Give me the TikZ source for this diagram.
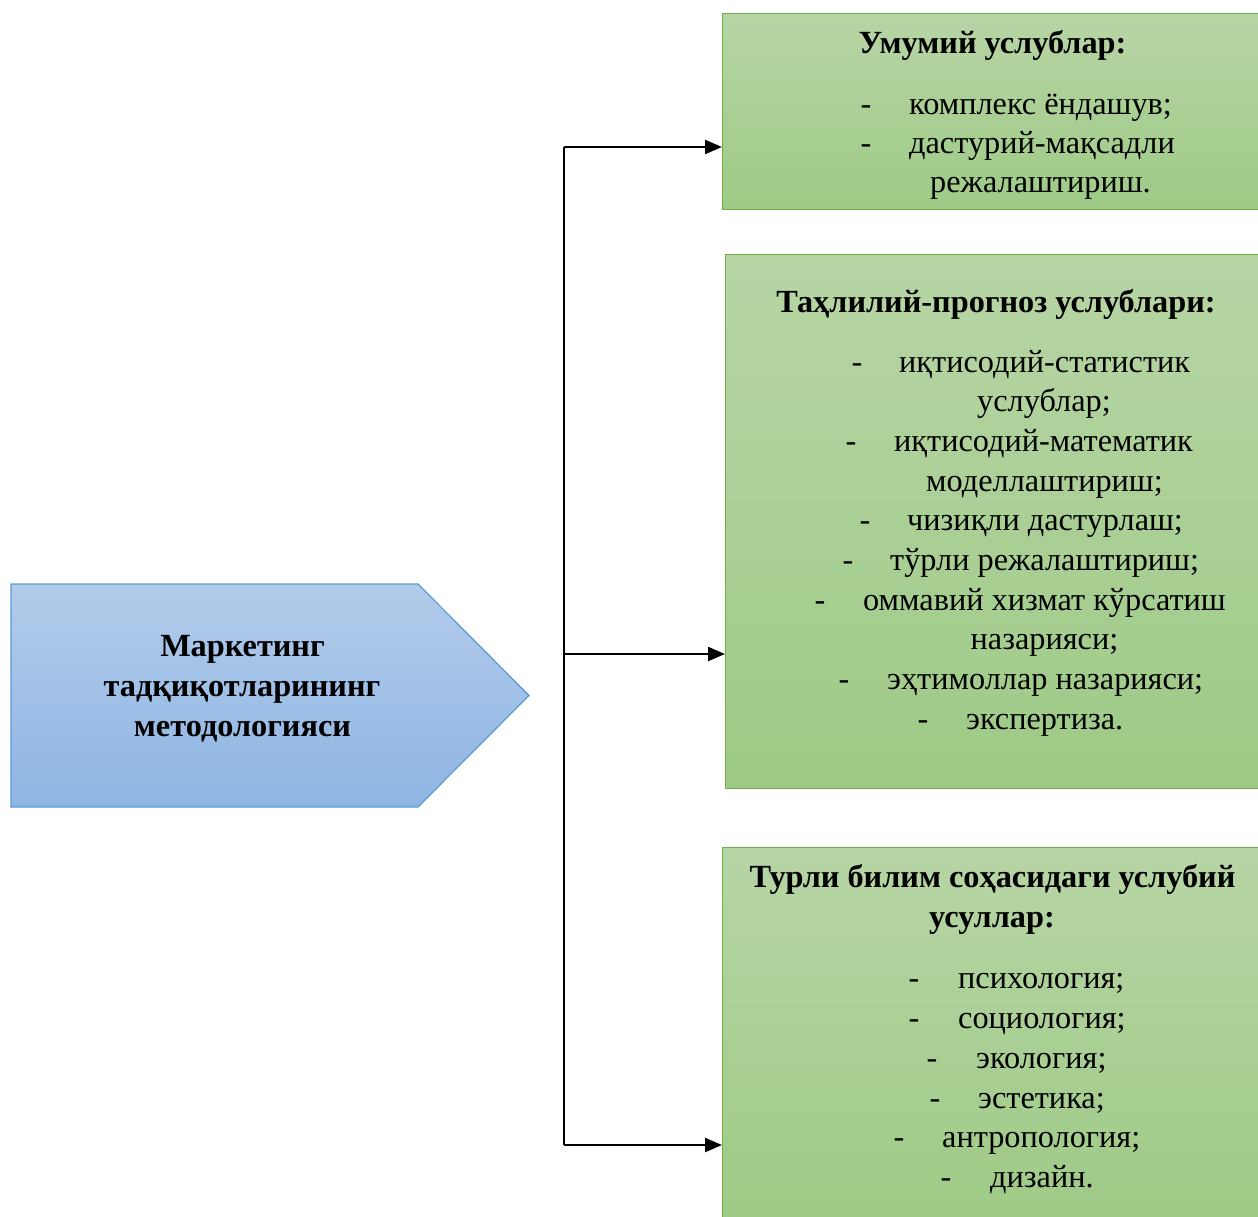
\documentclass[tikz,border=0pt]{standalone}
\usepackage{fontspec}
\setmainfont{Liberation Serif}
\usetikzlibrary{arrows.meta}
\definecolor{gtop}{RGB}{183,213,165}
\definecolor{gbot}{RGB}{158,202,134}
\definecolor{gline}{RGB}{112,173,71}
\definecolor{btop}{RGB}{178,203,234}
\definecolor{bbot}{RGB}{142,181,227}
\definecolor{bline}{RGB}{91,155,213}
\newcommand{\boxfont}{\fontsize{32.3}{39}\selectfont}
\tikzset{
  greenbox/.style={draw=gline, line width=1.2pt, top color=gtop, bottom color=gbot,
    anchor=north west, inner sep=0pt},
  item/.style={anchor=base west, inner sep=0pt, font=\boxfont},
  cont/.style={anchor=base, inner sep=0pt, font=\boxfont},
  head/.style={anchor=base, inner sep=0pt, font=\boxfont\bfseries},
  bullet/.style={anchor=base, inner sep=0pt, font=\boxfont},
  trunk/.style={line width=1.3pt},
  link/.style={line width=2.2pt, -{Triangle[length=17pt,width=14pt]}},
}
\begin{document}
\begin{tikzpicture}[x=1pt,y=-1pt]
\useasboundingbox (0,0) rectangle (1258,1216);
\clip (0,0) rectangle (1258,1216);

% pentagon arrow on the left
\path[draw=bline, line width=1.2pt, top color=btop, bottom color=bbot]
  (11,584) -- (418,584) -- (529,695.5) -- (418,807) -- (11,807) -- cycle;
\node[head] (m1) at (242.5,656) {Маркетинг};
\node[head] (m2) at (242,696) {тадқиқотларининг};
\node[head] (m3) at (242.5,736) {методологияси};

% the three green boxes
\node[greenbox, minimum width=536pt, minimum height=196pt] (box1) at (722,13) {};
\node[greenbox, minimum width=533pt, minimum height=534pt] (box2) at (725,254) {};
\node[greenbox, minimum width=536pt, minimum height=380pt] (box3) at (722,847) {};

% box 1
\node[head] (h1) at (992.5,53) {Умумий услублар:};
\node[bullet] (d11) at (866,114) {-};
\node[item] (a11) at (909,114) {комплекс ёндашув;};
\node[bullet] (d12) at (866,153) {-};
\node[item] (a12) at (909,153) {дастурий-мақсадли};
\node[cont] (a13) at (1040.5,192) {режалаштириш.};

% box 2
\node[head] (h2) at (996,312) {Таҳлилий-прогноз услублари:};
\node[bullet] (d21) at (857,372) {-};
\node[item] (a21) at (899,372) {иқтисодий-статистик};
\node[cont] (a22) at (1044,411.7) {услублар;};
\node[bullet] (d23) at (851,451.4) {-};
\node[item] (a23) at (894,451.4) {иқтисодий-математик};
\node[cont] (a24) at (1044.5,491.1) {моделлаштириш;};
\node[bullet] (d25) at (865,530.8) {-};
\node[item] (a25) at (907,530.8) {чизиқли дастурлаш;};
\node[bullet] (d26) at (848,570.5) {-};
\node[item] (a26) at (890,570.5) {тўрли режалаштириш;};
\node[bullet] (d27) at (820,610.2) {-};
\node[item] (a27) at (863,610.2) {оммавий хизмат кўрсатиш};
\node[cont] (a28) at (1044.5,649.9) {назарияси;};
\node[bullet] (d29) at (844,689.6) {-};
\node[item] (a29) at (887,689.6) {эҳтимоллар назарияси;};
\node[bullet] (d2a) at (923,729.3) {-};
\node[item] (a2a) at (966,729.3) {экспертиза.};

% box 3
\node[head] (h3a) at (992.5,887) {Турли билим соҳасидаги услубий};
\node[head] (h3b) at (992,927) {усуллар:};
\node[bullet] (d31) at (914,988) {-};
\node[item] (a31) at (958,988) {психология;};
\node[bullet] (d32) at (914,1028) {-};
\node[item] (a32) at (958,1028) {социология;};
\node[bullet] (d33) at (932,1068) {-};
\node[item] (a33) at (976,1068) {экология;};
\node[bullet] (d34) at (935,1108) {-};
\node[item] (a34) at (978,1108) {эстетика;};
\node[bullet] (d35) at (899,1147) {-};
\node[item] (a35) at (942,1147) {антропология;};
\node[bullet] (d36) at (946,1187) {-};
\node[item] (a36) at (990,1187) {дизайн.};

% connectors
\coordinate (t1) at (564,147);
\coordinate (t2) at (564,654);
\coordinate (t3) at (564,1145);
\draw[trunk] (t1) -- (t3);
\draw[link] (t1) -- (box1.west |- t1);
\draw[link] (t2) -- (box2.west |- t2);
\draw[link] (t3) -- (box3.west |- t3);
\end{tikzpicture}
\end{document}
